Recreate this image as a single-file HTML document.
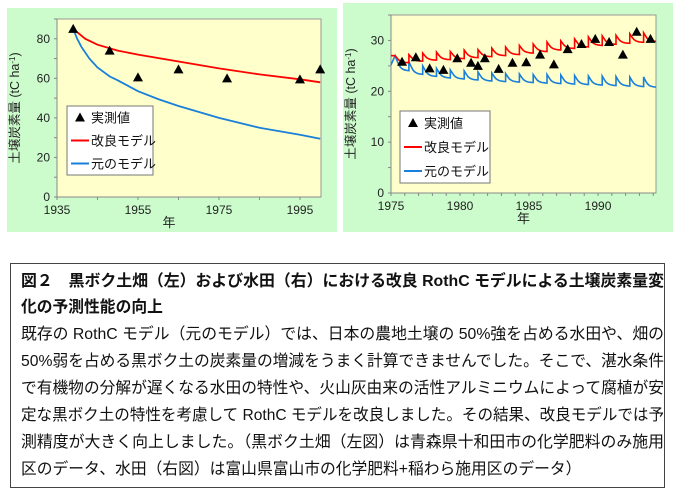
<!DOCTYPE html>
<html><head><meta charset="utf-8"><style>
body{margin:0;background:#fff;}
#root{position:relative;width:680px;height:498px;overflow:hidden;font-family:"Liberation Sans","Noto Sans CJK JP",sans-serif;}
.cap{position:absolute;left:10px;top:263px;width:655px;height:225px;border:1.5px solid #444;box-sizing:border-box;}
.ln{position:absolute;left:10px;white-space:nowrap;font-family:"Liberation Sans","Noto Sans CJK JP",sans-serif;font-size:16px;color:#111;transform-origin:0 0;}
.b{font-weight:bold;}
</style></head><body>
<div id="root">
<svg id="svg" width="680" height="262" style="position:absolute;left:0;top:0"></svg>
<div class="cap">
<div class="ln b full" style="top:3px">図２　黒ボク土畑（左）および水田（右）における改良 RothC モデルによる土壌炭素量変</div>
<div class="ln b" style="top:29px">化の予測性能の向上</div>
<div class="ln full" style="top:56px">既存の RothC モデル（元のモデル）では、日本の農地土壌の 50%強を占める水田や、畑の</div>
<div class="ln full" style="top:83px">50%弱を占める黒ボク土の炭素量の増減をうまく計算できませんでした。そこで、湛水条件</div>
<div class="ln full" style="top:110px">で有機物の分解が遅くなる水田の特性や、火山灰由来の活性アルミニウムによって腐植が安</div>
<div class="ln full" style="top:137px">定な黒ボク土の特性を考慮して RothC モデルを改良しました。その結果、改良モデルでは予</div>
<div class="ln full" style="top:164px">測精度が大きく向上しました。（黒ボク土畑（左図）は青森県十和田市の化学肥料のみ施用</div>
<div class="ln" style="top:191px">区のデータ、水田（右図）は富山県富山市の化学肥料+稲わら施用区のデータ）</div>
</div>
</div>
<script>
// Left chart data
const L_obsYears=[1939,1948,1955,1965,1977,1995,2000];
const L_obsVals=[85,74,60.5,64.5,60,59.5,64.5];
const L_redYears=[1939,1942,1945,1950,1955,1965,1975,1985,1995,2000];
const L_redVals=[85,80,77,74,72,68.5,65,62,59.5,58];
const L_blueYears=[1939,1940,1941,1943,1945,1948,1950,1955,1960,1965,1975,1985,1995,2000];
const L_blueVals=[85,80,76,70,65.5,61,59,53.5,49.5,46,40,35,31.5,29.5];
const L_yTicks=[0,20,40,60,80];
const L_xTicks=[1935,1955,1975,1995];
// Right chart data
const R_years=[1975,1976,1977,1978,1979,1980,1981,1982,1983,1984,1985,1986,1987,1988,1989,1990,1991,1992,1993];
const R_redPeak=[27,27.2,27.5,27.7,27.8,28.1,28.2,28.5,28.7,29,29.3,29.7,29.9,30.3,30.7,30.9,31,31.3,31.5];
const R_redTrough=[25.6,25.9,26.1,26.2,26.4,26.6,26.8,27,27.2,27.5,27.8,28.1,28.4,28.7,29,29.2,29.4,29.6,29.8];
const R_bluePeak=[27,25.8,25,24.5,24.2,24,23.8,23.6,23.5,23.4,23.3,23.3,23.2,23.1,23,23,22.9,22.8,22.8];
const R_blueTrough=[24,23.3,22.9,22.6,22.4,22.2,22,21.9,21.8,21.7,21.6,21.5,21.4,21.3,21.2,21.1,21,20.9,20.8];
const R_obsYears=[1975.8,1976.8,1977.8,1978.8,1979.8,1980.8,1981.3,1981.8,1982.8,1983.8,1984.8,1985.8,1986.8,1987.8,1988.8,1989.8,1990.8,1991.8,1992.8,1993.8];
const R_obsVals=[25.8,26.7,24.5,24.2,26.5,25.6,25,26.5,24.4,25.6,25.7,27.2,25.3,28.3,29.3,30.3,29.7,27.2,31.7,30.3];
const R_yTicks=[0,10,20,30];
const R_xTicks=[1975,1980,1985,1990];

const NS='http://www.w3.org/2000/svg';
const svg=document.getElementById('svg');
function mk(tag,attrs,parent,text){const e=document.createElementNS(NS,tag);for(const k in attrs)e.setAttribute(k,attrs[k]);if(text!==undefined)e.textContent=text;(parent||svg).appendChild(e);return e;}

function chart(o){
  const g=mk('g',{});
  
  
  const bg=mk('rect',{x:o.bx,y:o.by,width:o.bw,height:o.bh,fill:'#ccfccc'},g);
  
  
  const pa=mk('rect',{x:o.px,y:o.py,width:o.pw,height:o.ph,fill:'#ffffcc',stroke:'#999','stroke-width':1},g);
  
  
  const X=v=>o.px+(v-o.x0)/(o.x1-o.x0)*o.pw;
  const Y=v=>o.py+o.ph-(v-o.y0)/(o.y1-o.y0)*o.ph;
  mk('line',{x1:o.px,y1:o.py,x2:o.px,y2:o.py+o.ph,stroke:'#888'},g);
  mk('line',{x1:o.px,y1:o.py+o.ph,x2:o.px+o.pw,y2:o.py+o.ph,stroke:'#888'},g);
  for(let v=o.y0;v<=o.y1+1e-6;v+=o.yMinor){mk('line',{x1:o.px-3,y1:Y(v),x2:o.px,y2:Y(v),stroke:'#888'},g);}
  for(let v=o.x0;v<=o.x1+1e-6;v+=o.xMinor){mk('line',{x1:X(v),y1:o.py+o.ph,x2:X(v),y2:o.py+o.ph+3,stroke:'#888'},g);}
  o.yTicks.forEach(v=>{const t=mk('text',{x:o.px-7,y:Y(v)+4,'text-anchor':'end','font-size':12,fill:'#222'},g,String(v));
    
    });
  o.xTicks.forEach(v=>{const t=mk('text',{x:X(v),y:o.py+o.ph+17,'text-anchor':'middle','font-size':12,fill:'#222'},g,String(v));
    
    });
  const xt=mk('text',{x:o.px+o.pw/2-(o.name==='left-chart'?20:0),y:o.py+o.ph+30,'text-anchor':'middle','font-size':13,fill:'#222'},g,'年');
  
  
  const cy=o.py+o.ph/2, cx=o.bx+12;
  const yt=mk('text',{x:cx,y:cy,transform:`rotate(-90 ${cx} ${cy})`,'text-anchor':'middle','font-size':12.5,fill:'#222'},g);
  
  
  mk('tspan',{},yt,'土壌炭素量 (tC ha');
  mk('tspan',{dy:-4,'font-size':8},yt,'-1');
  mk('tspan',{dy:4},yt,')');
  return {g,X,Y};
}
function tri(g,x,y){const p=mk('path',{d:`M${x} ${y-5}L${x+5} ${y+4}L${x-5} ${y+4}Z`,fill:'#000'},g);
  
  }
function legend(g,x,y,w,h){
  const lg=mk('g',{},g);
  
  
  mk('rect',{x,y,width:w,height:h,fill:'#fff',stroke:'#777'},lg);
  const sp=h/3;
  tri(lg,x+13,y+sp*0.5);
  const a=mk('text',{x:x+24,y:y+sp*0.5+5,'font-size':13,fill:'#111'},lg,'実測値');
  
  
  mk('line',{x1:x+4,y1:y+sp*1.5,x2:x+22,y2:y+sp*1.5,stroke:'#ff0000','stroke-width':2},lg);
  const b=mk('text',{x:x+24,y:y+sp*1.5+5,'font-size':13,fill:'#111'},lg,'改良モデル');
  
  
  mk('line',{x1:x+4,y1:y+sp*2.5,x2:x+22,y2:y+sp*2.5,stroke:'#1a7fd8','stroke-width':2},lg);
  const c=mk('text',{x:x+24,y:y+sp*2.5+5,'font-size':13,fill:'#111'},lg,'元のモデル');
  
  
}
const L=chart({name:'left-chart',bx:7,by:8,bw:330,bh:224,px:57,py:19,pw:264,ph:178,x0:1935,x1:2000.2,y0:0,y1:90,yMinor:10,xMinor:10,yTicks:L_yTicks,xTicks:L_xTicks});
legend(L.g,67,106,86,69);
function line(g,xs,ys,X,Y,col,name){const d=xs.map((x,i)=>(i?'L':'M')+X(x).toFixed(1)+' '+Y(ys[i]).toFixed(1)).join('');
  const p=mk('path',{d,fill:'none',stroke:col,'stroke-width':1.8},g);
  
  }
line(L.g,L_blueYears,L_blueVals,L.X,L.Y,'#1a7fd8','original-model-line');
line(L.g,L_redYears,L_redVals,L.X,L.Y,'#ff0000','improved-model-line');
L_obsYears.forEach((y,i)=>tri(L.g,L.X(y),L.Y(L_obsVals[i])));
const R=chart({name:'right-chart',bx:343,by:3,bw:330,bh:229,px:391,py:15,pw:265,ph:178,x0:1975,x1:1994.2,y0:0,y1:35,yMinor:5,xMinor:1,yTicks:R_yTicks,xTicks:R_xTicks});
legend(R.g,400,111,90,72);
function saw(peaks,troughs,start,col,name){
  let d='M'+R.X(1975).toFixed(1)+' '+R.Y(start).toFixed(1);
  R_years.forEach((yr,i)=>{
    const t0=yr+0.3, pk=peaks[i], tr=troughs[i];
    d+='L'+R.X(t0).toFixed(1)+' '+R.Y(pk).toFixed(1);
    const end=i<R_years.length-1?1.0:0.9;
    for(let k=1;k<=8;k++){const f=k/8;const t=t0+0.05+f*(end-0.05);const v=tr+(pk-tr)*Math.exp(-4*f)*(1-f*0.05);
      d+='L'+R.X(t).toFixed(1)+' '+R.Y(v).toFixed(1);}
  });
  const p=mk('path',{d,fill:'none',stroke:col,'stroke-width':1.6},R.g);
  
  
}
saw(R_bluePeak,R_blueTrough,25.2,'#1a7fd8','original-model-line');
saw(R_redPeak,R_redTrough,27,'#ff0000','improved-model-line');
R_obsYears.forEach((y,i)=>tri(R.g,R.X(y),R.Y(R_obsVals[i])));
// fit caption lines
let avg=[];
document.querySelectorAll('.ln.full').forEach(el=>{const w=el.getBoundingClientRect().width;const s=643/w;avg.push(s);el.style.transform='scaleX('+s+')';});
const sAvg=avg.reduce((a,b)=>a+b,0)/avg.length;
document.querySelectorAll('.ln:not(.full)').forEach(el=>{el.style.transform='scaleX('+sAvg+')';});
</script>
</body></html>
